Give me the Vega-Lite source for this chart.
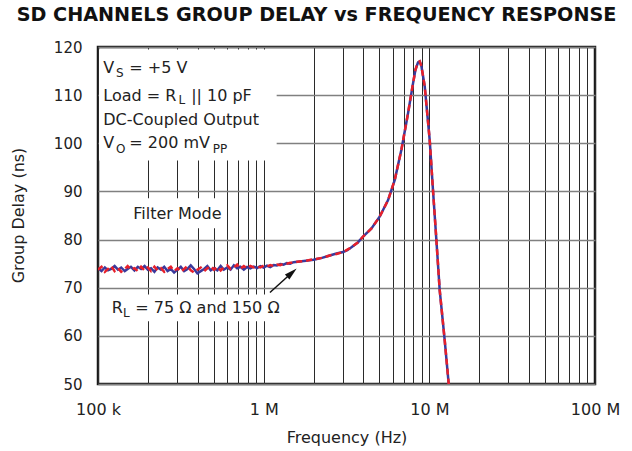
{
  "$schema": "https://vega.github.io/schema/vega-lite/v6.json",
  "width": 497,
  "height": 337,
  "autosize": {"type": "none"},
  "padding": {"left": 98, "top": 47, "right": 37, "bottom": 67},
  "background": "white",
  "config": {
    "font": "DejaVu Sans",
    "view": {"stroke": "#1a1a1a", "strokeWidth": 2.5},
    "text": {"font": "DejaVu Sans"}
  },
  "title": {
    "text": "SD CHANNELS GROUP DELAY vs FREQUENCY RESPONSE",
    "fontSize": 19.2,
    "fontWeight": "bold",
    "font": "DejaVu Sans",
    "color": "#111111",
    "anchor": "middle",
    "frame": "group",
    "dx": -30,
    "dy": 26,
    "offset": 22,
    "baseline": "bottom"
  },
  "datasets": {
    "curve": [
      {"f":100000,"d":74.05,"s":"75"},{"f":105000,"d":73.45,"s":"75"},{"f":110000,"d":74.2,"s":"75"},{"f":115000,"d":73.6,"s":"75"},{"f":120000,"d":73.9,"s":"75"},{"f":126000,"d":74.5,"s":"75"},{"f":132000,"d":73.75,"s":"75"},{"f":138000,"d":74.2,"s":"75"},{"f":145000,"d":73.45,"s":"75"},{"f":151000,"d":73.9,"s":"75"},{"f":158000,"d":74.35,"s":"75"},{"f":166000,"d":73.6,"s":"75"},{"f":174000,"d":74.35,"s":"75"},{"f":182000,"d":73.9,"s":"75"},{"f":191000,"d":74.5,"s":"75"},{"f":200000,"d":73.75,"s":"75"},{"f":209000,"d":74.05,"s":"75"},{"f":219000,"d":73.3,"s":"75"},{"f":229000,"d":74.2,"s":"75"},{"f":240000,"d":73.75,"s":"75"},{"f":251000,"d":74.35,"s":"75"},{"f":263000,"d":73.45,"s":"75"},{"f":275000,"d":73.9,"s":"75"},{"f":288000,"d":73.15,"s":"75"},{"f":302000,"d":73.75,"s":"75"},{"f":316000,"d":74.35,"s":"75"},{"f":331000,"d":73.45,"s":"75"},{"f":347000,"d":73.9,"s":"75"},{"f":363000,"d":74.65,"s":"75"},{"f":380000,"d":73.9,"s":"75"},{"f":398000,"d":73.0,"s":"75"},{"f":417000,"d":73.45,"s":"75"},{"f":437000,"d":73.9,"s":"75"},{"f":457000,"d":74.5,"s":"75"},{"f":479000,"d":73.6,"s":"75"},{"f":501000,"d":74.05,"s":"75"},{"f":525000,"d":73.6,"s":"75"},{"f":550000,"d":74.5,"s":"75"},{"f":575000,"d":73.75,"s":"75"},{"f":603000,"d":74.2,"s":"75"},{"f":631000,"d":73.75,"s":"75"},{"f":661000,"d":74.65,"s":"75"},{"f":692000,"d":74.05,"s":"75"},{"f":724000,"d":74.35,"s":"75"},{"f":759000,"d":73.75,"s":"75"},{"f":794000,"d":74.3,"s":"75"},{"f":832000,"d":74.0,"s":"75"},{"f":871000,"d":74.4,"s":"75"},{"f":912000,"d":74.1,"s":"75"},{"f":955000,"d":74.5,"s":"75"},{"f":1000000,"d":74.2,"s":"75"},{"f":1047000,"d":74.6,"s":"75"},{"f":1096000,"d":74.3,"s":"75"},{"f":1148000,"d":74.7,"s":"75"},{"f":1202000,"d":74.6,"s":"75"},{"f":1259000,"d":74.9,"s":"75"},{"f":1318000,"d":74.8,"s":"75"},{"f":1380000,"d":75.1,"s":"75"},{"f":1445000,"d":75.0,"s":"75"},{"f":1514000,"d":75.3,"s":"75"},
      {"f":1600000,"d":75.4,"s":"75"},{"f":1800000,"d":75.6,"s":"75"},{"f":2000000,"d":75.8,"s":"75"},{"f":2250000,"d":76.2,"s":"75"},{"f":2506000,"d":76.7,"s":"75"},{"f":2750000,"d":77.1,"s":"75"},{"f":3016000,"d":77.4,"s":"75"},{"f":3200000,"d":77.8,"s":"75"},{"f":3388000,"d":78.4,"s":"75"},{"f":3700000,"d":79.4,"s":"75"},{"f":3981000,"d":80.6,"s":"75"},{"f":4475000,"d":82.3,"s":"75"},{"f":5023000,"d":84.8,"s":"75"},{"f":5636000,"d":88.2,"s":"75"},{"f":6185000,"d":92.4,"s":"75"},{"f":6787000,"d":98.7,"s":"75"},{"f":7443000,"d":106.3,"s":"75"},{"f":7977000,"d":112.5,"s":"75"},{"f":8250000,"d":115.3,"s":"75"},{"f":8550000,"d":116.8,"s":"75"},{"f":8750000,"d":117.0,"s":"75"},{"f":8961000,"d":116.0,"s":"75"},{"f":9380000,"d":111.8,"s":"75"},{"f":10050000,"d":100.7,"s":"75"},{"f":10520000,"d":90.3,"s":"75"},{"f":11030000,"d":79.9,"s":"75"},{"f":11550000,"d":69.5,"s":"75"},{"f":12380000,"d":59.1,"s":"75"},{"f":13090000,"d":50.0,"s":"75"},
      {"f":100000,"d":73.75,"s":"150"},{"f":105000,"d":74.35,"s":"150"},{"f":110000,"d":73.3,"s":"150"},{"f":115000,"d":73.9,"s":"150"},{"f":120000,"d":74.5,"s":"150"},{"f":126000,"d":73.45,"s":"150"},{"f":132000,"d":74.05,"s":"150"},{"f":138000,"d":73.3,"s":"150"},{"f":145000,"d":73.9,"s":"150"},{"f":151000,"d":74.5,"s":"150"},{"f":158000,"d":73.75,"s":"150"},{"f":166000,"d":74.05,"s":"150"},{"f":174000,"d":73.45,"s":"150"},{"f":182000,"d":74.35,"s":"150"},{"f":191000,"d":73.6,"s":"150"},{"f":200000,"d":74.2,"s":"150"},{"f":209000,"d":73.45,"s":"150"},{"f":219000,"d":74.35,"s":"150"},{"f":229000,"d":73.6,"s":"150"},{"f":240000,"d":74.05,"s":"150"},{"f":251000,"d":73.3,"s":"150"},{"f":263000,"d":73.9,"s":"150"},{"f":275000,"d":74.35,"s":"150"},{"f":288000,"d":73.45,"s":"150"},{"f":302000,"d":74.05,"s":"150"},{"f":316000,"d":73.3,"s":"150"},{"f":331000,"d":73.9,"s":"150"},{"f":347000,"d":74.5,"s":"150"},{"f":363000,"d":73.6,"s":"150"},{"f":380000,"d":73.15,"s":"150"},{"f":398000,"d":73.75,"s":"150"},{"f":417000,"d":74.2,"s":"150"},{"f":437000,"d":73.45,"s":"150"},{"f":457000,"d":74.05,"s":"150"},{"f":479000,"d":74.5,"s":"150"},{"f":501000,"d":73.75,"s":"150"},{"f":525000,"d":74.35,"s":"150"},{"f":550000,"d":73.6,"s":"150"},{"f":575000,"d":74.2,"s":"150"},{"f":603000,"d":74.65,"s":"150"},{"f":631000,"d":73.9,"s":"150"},{"f":661000,"d":74.2,"s":"150"},{"f":692000,"d":74.8,"s":"150"},{"f":724000,"d":73.9,"s":"150"},{"f":759000,"d":74.5,"s":"150"},{"f":794000,"d":74.0,"s":"150"},{"f":832000,"d":74.5,"s":"150"},{"f":871000,"d":74.2,"s":"150"},{"f":912000,"d":74.4,"s":"150"},{"f":955000,"d":74.2,"s":"150"},{"f":1000000,"d":74.6,"s":"150"},{"f":1047000,"d":74.4,"s":"150"},{"f":1096000,"d":74.7,"s":"150"},{"f":1148000,"d":74.5,"s":"150"},{"f":1202000,"d":74.8,"s":"150"},{"f":1259000,"d":74.7,"s":"150"},{"f":1318000,"d":75.0,"s":"150"},{"f":1380000,"d":75.0,"s":"150"},{"f":1445000,"d":75.2,"s":"150"},{"f":1514000,"d":75.2,"s":"150"},
      {"f":1600000,"d":75.4,"s":"150"},{"f":1800000,"d":75.6,"s":"150"},{"f":2000000,"d":75.9,"s":"150"},{"f":2250000,"d":76.2,"s":"150"},{"f":2506000,"d":76.7,"s":"150"},{"f":2750000,"d":77.0,"s":"150"},{"f":3016000,"d":77.4,"s":"150"},{"f":3200000,"d":77.9,"s":"150"},{"f":3388000,"d":78.4,"s":"150"},{"f":3700000,"d":79.4,"s":"150"},{"f":3981000,"d":80.6,"s":"150"},{"f":4475000,"d":82.3,"s":"150"},{"f":5023000,"d":84.8,"s":"150"},{"f":5636000,"d":88.2,"s":"150"},{"f":6185000,"d":92.4,"s":"150"},{"f":6787000,"d":98.7,"s":"150"},{"f":7443000,"d":106.3,"s":"150"},{"f":7977000,"d":112.5,"s":"150"},{"f":8250000,"d":115.3,"s":"150"},{"f":8550000,"d":116.8,"s":"150"},{"f":8750000,"d":117.0,"s":"150"},{"f":8961000,"d":116.0,"s":"150"},{"f":9380000,"d":111.8,"s":"150"},{"f":10050000,"d":100.7,"s":"150"},{"f":10520000,"d":90.3,"s":"150"},{"f":11030000,"d":79.9,"s":"150"},{"f":11550000,"d":69.5,"s":"150"},{"f":12380000,"d":59.1,"s":"150"},{"f":13090000,"d":50.0,"s":"150"}
    ],
    "boxes": [
      {"f":101400,"f2":1198000,"d":96.42,"d2":119.5},
      {"f":151700,"f2":560000,"d":82.33,"d2":88.58},
      {"f":102800,"f2":1482000,"d":63.02,"d2":68.58}
    ],
    "labels": [
      {"f":107640,"d":114.63,"text":"V"},
      {"f":154530,"d":114.63,"text":"= +5 V"},
      {"f":107640,"d":108.85,"text":"Load = R"},
      {"f":365000,"d":108.85,"text":"|| 10 pF"},
      {"f":107640,"d":103.85,"text":"DC-Coupled Output"},
      {"f":107640,"d":99.0,"text":"V"},
      {"f":154530,"d":99.0,"text":"= 200 mV"},
      {"f":163300,"d":84.27,"text":"Filter Mode"},
      {"f":120970,"d":64.83,"text":"R"},
      {"f":168000,"d":64.83,"text":"= 75 Ω and 150 Ω"}
    ],
    "subs": [
      {"f":128440,"d":113.79,"text":"S"},
      {"f":306000,"d":108.17,"text":"L"},
      {"f":128440,"d":97.96,"text":"O"},
      {"f":492300,"d":97.96,"text":"PP"},
      {"f":141550,"d":64.0,"text":"L"}
    ],
    "arrow": [
      {"f":1091000,"d":69.0,"f2":1456600,"d2":72.89}
    ]
  },
  "encoding": {
    "x": {
      "field": "f",
      "type": "quantitative",
      "scale": {"type": "log", "domain": [100000, 100000000], "nice": false},
      "axis": {
        "values": [100000,200000,300000,400000,500000,600000,700000,800000,900000,1000000,2000000,3000000,4000000,5000000,6000000,7000000,8000000,9000000,10000000,20000000,30000000,40000000,50000000,60000000,70000000,80000000,90000000,100000000],
        "labelExpr": "datum.value==100000?'100 k':datum.value==1000000?'1 M':datum.value==10000000?'10 M':datum.value==100000000?'100 M':''",
        "labelOverlap": false,
        "labelFlush": false,
        "grid": true,
        "gridColor": "#2a2a2a",
        "gridWidth": 1,
        "ticks": false,
        "domain": false,
        "labelFontSize": 16,
        "labelColor": "#222222",
        "labelPadding": 17,
        "title": "Frequency (Hz)",
        "titleFontSize": 16,
        "titleFontWeight": "normal",
        "titleColor": "#222222",
        "titleY": 53,
        "titleBaseline": "middle"
      }
    },
    "y": {
      "field": "d",
      "type": "quantitative",
      "scale": {"domain": [50, 120], "nice": false, "zero": false},
      "axis": {
        "values": [50,60,70,80,90,100,110,120],
        "grid": true,
        "gridColor": "#808080",
        "gridWidth": 1.5,
        "ticks": false,
        "domain": false,
        "labelFontSize": 15,
        "labelColor": "#222222",
        "labelPadding": 16,
        "title": "Group Delay (ns)",
        "titleFontSize": 16,
        "titleFontWeight": "normal",
        "titleColor": "#222222",
        "titleX": -80,
        "titleY": 168,
        "titleAlign": "center",
        "titleBaseline": "middle"
      }
    }
  },
  "layer": [
    {
      "data": {"name": "boxes"},
      "mark": {"type": "rect", "fill": "white", "stroke": null},
      "encoding": {"x2": {"field": "f2"}, "y2": {"field": "d2"}}
    },
    {
      "data": {"name": "curve"},
      "transform": [{"filter": "datum.s == '75'"}],
      "mark": {"type": "line", "color": "#3a3a9c", "strokeWidth": 2.5, "clip": true}
    },
    {
      "data": {"name": "curve"},
      "transform": [{"filter": "datum.s == '150'"}],
      "mark": {"type": "line", "color": "#e8202a", "strokeWidth": 2.5, "strokeDash": [6, 4], "clip": true}
    },
    {
      "data": {"name": "labels"},
      "mark": {"type": "text", "align": "left", "baseline": "alphabetic", "fontSize": 16, "color": "#222222"},
      "encoding": {"text": {"field": "text"}}
    },
    {
      "data": {"name": "subs"},
      "mark": {"type": "text", "align": "left", "baseline": "alphabetic", "fontSize": 12, "color": "#222222"},
      "encoding": {"text": {"field": "text"}}
    },
    {
      "data": {"name": "arrow"},
      "mark": {"type": "rule", "color": "#111111", "strokeWidth": 1.5},
      "encoding": {"x2": {"field": "f2"}, "y2": {"field": "d2"}}
    },
    {
      "data": {"name": "arrow"},
      "mark": {"type": "point", "shape": "M0,-1L0.42,0.6L-0.42,0.6Z", "size": 256, "angle": 48, "filled": true, "color": "#111111", "opacity": 1},
      "encoding": {"x": {"field": "f2"}, "y": {"field": "d2"}}
    }
  ]
}
